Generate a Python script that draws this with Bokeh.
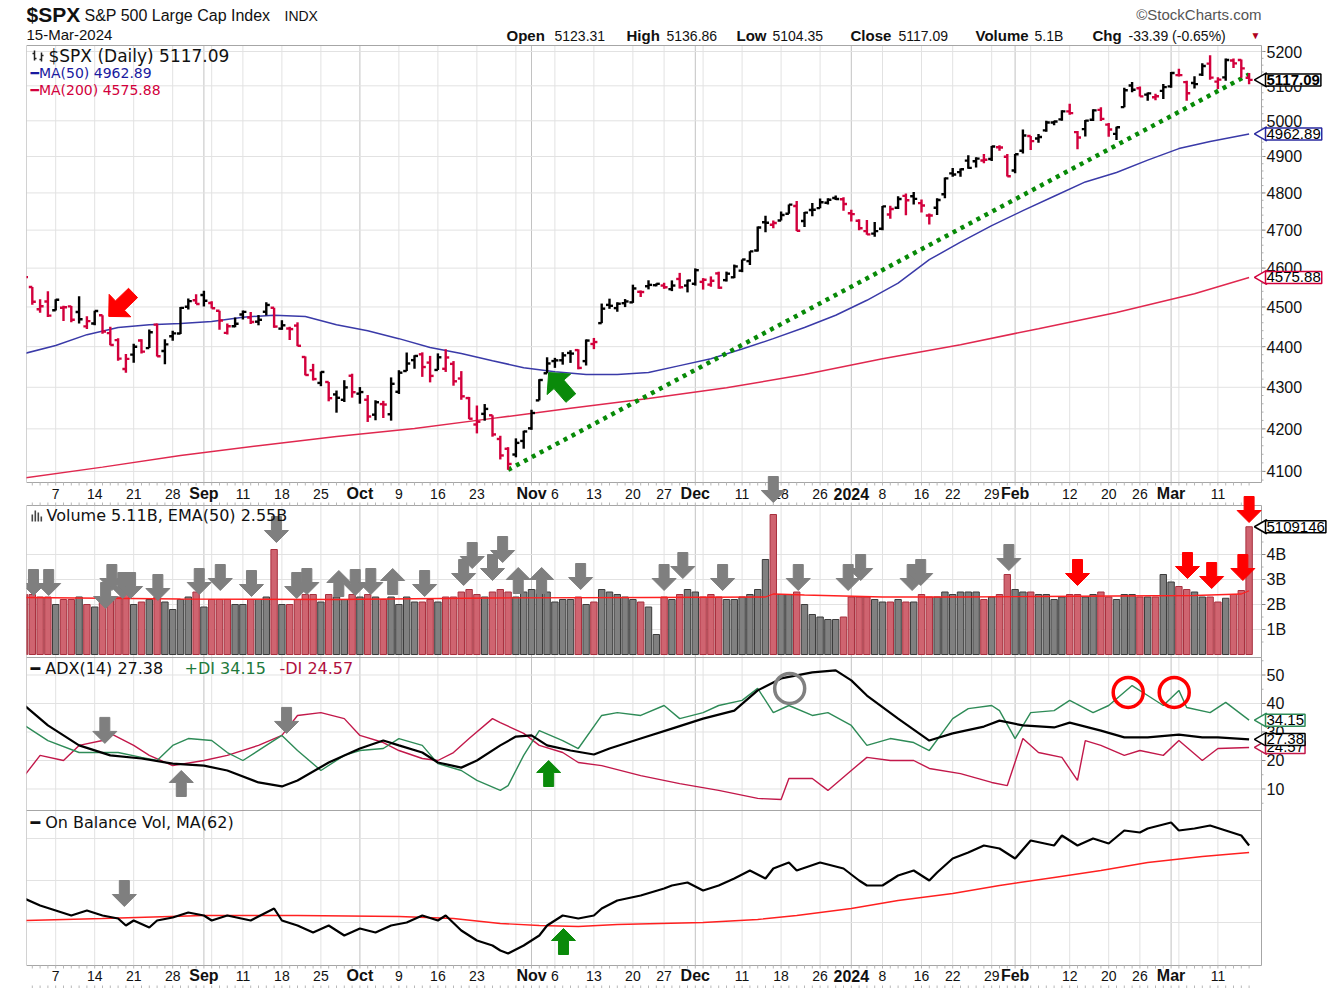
import numpy as np
from bokeh.plotting import figure
from bokeh.models import Range1d, LogScale, Label, ColumnDataSource
from bokeh.core.properties import value
from bokeh.embed import file_html
from bokeh.resources import INLINE

# ---------------- DATA ----------------
prev_close = 4588.96  # close before first bar
opens = [4578.83,4550.93,4494.27,4513.96,4491.58,4498.03,4501.57,4487.16,4450.69,4458.13,4478.87,4433.79,4416.32,4344.88,4380.28,4415.33,4396.44,4455.16,4389.38,4426.03,4432.75,4500.34,4517.01,
 4530.60,4510.06,4490.35,4434.55,4451.30,4480.98,4473.27,4462.65,4487.78,4497.98,4445.13,4445.41,4452.81,4374.36,4341.74,4310.62,4312.88,4282.63,4269.65,4328.18,
 4284.52,4269.75,4233.83,4259.31,4234.79,4289.02,4339.75,4366.59,4380.94,4360.49,4342.37,4345.23,4357.35,4321.36,4273.85,4210.40,4235.79,4232.42,4175.99,4152.93,4139.39,4171.33,
 4201.27,4268.26,4334.23,4364.27,4366.21,4384.37,4391.41,4364.15,4406.66,4458.97,4505.30,4497.08,4509.55,4511.70,4538.77,4553.04,4555.84,4554.86,4545.55,4571.84,4554.87,
 4559.43,4564.37,4557.25,4586.23,4568.84,4576.20,4593.39,4618.30,4646.20,4721.04,4714.23,4725.58,4743.72,4764.73,4724.29,4753.92,4758.86,4773.45,4786.44,4782.88,
 4745.20,4725.07,4697.42,4690.57,4703.70,4741.93,4759.94,4792.13,4791.18,4772.35,4739.13,4760.10,4796.28,4853.42,4856.80,4888.56,4886.66,4888.91,4892.95,4925.89,4899.19,
 4861.11,4916.06,4957.19,4950.16,4973.05,4995.16,5004.17,5026.83,4967.94,4976.44,5003.14,5031.13,4989.32,4963.03,5038.83,5100.92,5093.00,5074.60,5067.20,5085.36,
 5098.51,5130.99,5110.52,5108.03,5132.38,5164.46,5111.96,5124.31,5173.49,5175.14,5123.31]
highs = [4584.62,4550.93,4519.49,4540.34,4519.84,4503.31,4502.44,4527.37,4476.23,4490.33,4478.87,4449.95,4421.17,4381.82,4407.55,4418.59,4443.18,4458.30,4418.46,4439.56,4500.14,4521.65,4532.26,
 4541.25,4514.29,4490.35,4457.81,4473.53,4490.77,4487.11,4479.39,4511.99,4497.98,4466.36,4449.85,4461.03,4375.70,4357.40,4338.51,4313.01,4292.07,4317.27,4333.15,
 4300.58,4281.15,4268.50,4267.13,4324.10,4341.73,4385.46,4378.64,4385.85,4377.10,4383.33,4393.57,4364.20,4339.54,4276.56,4255.84,4259.38,4232.42,4183.60,4156.70,4177.47,4195.55,
 4245.64,4319.72,4373.62,4372.21,4386.26,4391.20,4393.40,4418.03,4421.76,4508.67,4521.17,4511.99,4520.12,4557.11,4542.14,4568.43,4560.31,4562.06,4568.14,4587.64,4569.89,
 4599.39,4574.06,4578.56,4590.74,4590.92,4609.23,4622.49,4643.93,4709.69,4738.57,4725.53,4749.52,4768.69,4778.01,4748.71,4772.94,4784.72,4785.39,4793.30,4788.43,
 4754.33,4729.29,4726.78,4721.49,4764.54,4765.47,4790.80,4798.50,4802.40,4782.34,4744.23,4785.79,4842.07,4868.41,4866.48,4903.68,4898.15,4906.69,4929.31,4931.09,4906.75,
 4906.97,4975.29,4957.19,4963.13,4999.89,5000.40,5030.06,5048.39,4971.30,5002.52,5032.72,5038.70,4993.71,4983.21,5094.39,5111.06,5097.66,5080.69,5077.37,5104.99,
 5140.33,5149.67,5114.54,5127.97,5165.62,5189.26,5124.66,5179.14,5179.14,5176.85,5136.86]
lows = [4567.53,4505.75,4485.54,4474.55,4491.15,4464.39,4461.33,4457.92,4443.98,4453.44,4432.19,4403.55,4364.83,4335.31,4360.30,4382.77,4396.44,4375.55,4356.29,4414.98,4431.68,4493.59,4507.39,
 4501.35,4496.01,4442.38,4430.46,4448.38,4467.89,4456.83,4453.52,4478.69,4447.21,4442.11,4416.61,4401.38,4329.17,4316.49,4302.70,4265.98,4238.63,4264.38,4274.86,
 4260.21,4216.45,4220.48,4225.91,4219.55,4283.79,4339.64,4345.34,4325.43,4311.97,4342.37,4337.54,4303.84,4269.69,4223.03,4189.22,4219.43,4181.42,4127.90,4103.78,4132.94,4153.12,
 4197.74,4268.26,4334.23,4347.53,4355.41,4359.76,4343.94,4353.34,4393.82,4458.97,4495.31,4487.83,4499.66,4510.36,4525.51,4545.05,4552.80,4546.50,4540.51,4547.15,4537.24,
 4554.71,4544.48,4551.68,4546.50,4565.22,4574.06,4589.43,4608.09,4643.23,4694.34,4704.69,4725.58,4743.72,4697.82,4708.35,4736.77,4758.45,4768.90,4780.98,4751.99,
 4722.67,4699.71,4687.53,4682.11,4699.82,4730.35,4756.20,4739.58,4768.98,4747.12,4714.82,4740.57,4785.87,4844.05,4844.37,4865.94,4869.34,4881.47,4887.40,4916.27,4845.15,
 4853.52,4907.99,4918.09,4938.60,4969.05,4987.09,5000.34,5016.83,4920.31,4955.87,4999.44,4999.52,4955.02,4946.00,5038.83,5081.46,5068.91,5057.29,5058.35,5061.89,
 5094.16,5127.18,5056.82,5092.22,5128.21,5117.50,5091.14,5114.48,5151.88,5123.30,5104.35]
closes = [4576.73,4513.39,4501.89,4478.03,4518.44,4499.38,4467.71,4468.83,4464.05,4489.72,4437.86,4404.33,4370.36,4369.71,4399.77,4387.55,4436.01,4376.31,4405.71,4433.31,4497.63,4514.87,4507.66,
 4515.77,4496.83,4465.48,4451.14,4457.49,4487.46,4461.90,4467.44,4505.10,4450.32,4453.53,4443.95,4402.20,4330.00,4320.06,4337.44,4273.53,4274.51,4299.70,4288.05,
 4288.39,4229.45,4263.75,4258.19,4308.50,4335.66,4358.24,4376.95,4349.61,4327.78,4373.63,4373.20,4314.60,4278.00,4224.16,4217.04,4247.68,4186.77,4137.23,4117.37,4166.82,4193.80,
 4237.86,4317.78,4358.34,4365.98,4378.38,4382.78,4347.35,4415.24,4411.55,4495.70,4502.88,4508.24,4514.02,4547.38,4538.19,4556.62,4559.34,4550.43,4554.89,4550.58,4567.80,
 4594.63,4569.78,4567.18,4549.34,4585.59,4604.37,4622.44,4643.70,4707.09,4719.55,4719.19,4740.56,4768.37,4698.35,4746.75,4754.63,4774.75,4781.58,4783.35,4769.83,
 4742.83,4704.81,4688.68,4697.24,4763.54,4756.50,4783.45,4780.24,4783.83,4765.98,4739.21,4780.94,4839.81,4850.43,4864.60,4868.55,4894.16,4890.97,4927.93,4924.97,4845.65,
 4906.19,4958.61,4942.81,4954.23,4995.06,4997.91,5026.61,5021.84,4953.17,5000.62,5029.73,5005.57,4975.51,4981.80,5087.03,5088.80,5069.53,5078.18,5069.76,5096.27,
 5137.08,5130.95,5078.65,5104.76,5157.36,5123.69,5117.94,5175.27,5165.31,5150.48,5117.09]
volume_b = [2.4,2.4,2.3,2.3,2.0,2.2,2.2,2.3,2.0,1.9,2.1,2.2,2.3,2.4,2.0,2.1,2.2,2.3,2.1,1.8,2.2,2.3,2.5,
 1.9,2.2,2.2,2.2,2.0,2.0,2.2,2.2,2.3,4.2,2.0,2.0,2.2,2.4,2.4,2.1,2.4,2.3,2.2,2.4,
 2.3,2.4,2.3,2.2,2.3,2.0,2.3,2.1,2.1,2.2,2.1,2.3,2.3,2.5,2.6,2.4,2.3,2.5,2.6,2.5,2.3,2.5,
 2.6,2.6,2.5,2.1,2.2,2.2,2.3,2.0,2.1,2.6,2.5,2.4,2.3,2.2,2.1,1.9,0.8,2.3,2.2,2.4,2.6,
 2.5,2.3,2.4,2.3,2.2,2.2,2.3,2.4,2.6,3.8,5.6,2.4,2.4,2.5,2.0,1.6,1.5,1.4,1.4,1.5,
 2.3,2.3,2.3,2.2,2.1,2.1,2.2,2.1,2.1,2.4,2.3,2.3,2.5,2.4,2.5,2.5,2.5,2.2,2.3,2.4,3.2,
 2.6,2.5,2.5,2.4,2.4,2.2,2.3,2.4,2.4,2.3,2.4,2.5,2.3,2.2,2.4,2.4,2.3,2.3,2.3,3.2,
 2.9,2.72,2.6,2.5,2.3,2.3,2.1,2.25,2.4,2.56,5.11]

ma50_idx = [0,4,8,12,16,20,24,28,32,36,40,44,48,52,56,60,64,68,72,76,80,84,88,92,96,100,104,108,112,116,120,124,128,132,136,140,144,148,152,157]
ma50_val = [4383,4403,4430,4448,4455,4458,4463,4474,4479,4476,4455,4440,4420,4398,4383,4365,4348,4338,4331,4331,4336,4353,4370,4394,4420,4448,4479,4517,4561,4622,4668,4712,4752,4791,4830,4856,4890,4922,4942,4962.89]
ma200_idx = [0,10,20,30,40,50,60,70,80,90,100,110,120,130,140,150,157]
ma200_val = [4085,4110,4137,4160,4182,4201,4225,4249,4273,4299,4331,4370,4405,4445,4486,4534,4575.88]
trend_idx = [62,157]
trend_val = [4103.78,5133.0]

vema_idx = [0,20,40,60,80,95,96,100,110,120,130,140,150,156,157]
vema_val = [2.28,2.22,2.2,2.26,2.28,2.3,2.42,2.38,2.3,2.3,2.32,2.34,2.36,2.42,2.55]

adx_idx = [0,3,7,11,15,19,23,26,30,33,35,39,43,46,48,51,53,56,58,61,63,65,67,70,73,75,79,83,87,91,94,97,101,104,106,108,112,116,119,123,125,128,132,134,138,141,144,148,151,153,157]
adx_val = [39.3,32.3,25.3,21.8,20.7,18.9,18.2,16.5,12.3,10.9,13.0,19.3,24.2,27.0,25.3,22.8,19.3,17.5,20.0,25.3,28.4,28.8,25.3,23.5,22.1,24.2,27.7,31.2,34.7,37.5,44.6,48.8,50.9,51.6,48.1,42.8,34.7,27.0,29.5,31.9,34.0,32.3,31.6,33.3,30.5,28.1,28.1,29.1,28.1,28.1,27.38]
pdi_idx = [0,3,7,10,12,15,17,19,21,24,26,28,31,33,35,38,41,43,46,48,51,53,56,58,61,62,64,66,69,71,74,76,79,82,84,87,89,92,94,96,98,101,103,106,108,111,114,116,119,121,124,125,127,129,132,134,137,139,142,144,146,148,149,152,154,157]
pdi_val = [32.3,27.0,22.8,22.8,22.8,21.1,20.0,25.3,27.7,27.0,22.8,20.0,25.3,28.8,23.5,16.5,21.8,23.5,24.2,27.7,25.3,18.9,16.5,13.0,9.5,11.2,21.8,30.5,27.0,24.2,35.8,36.8,35.8,39.3,34.7,36.8,39.3,41.1,45.3,36.8,39.3,35.8,36.8,32.3,25.3,27.7,26.3,23.5,34.7,38.2,39.3,37.5,27.7,36.8,37.5,41.1,36.8,39.3,46.3,42.8,39.3,44.6,38.6,36.8,40.4,34.15]
mdi_idx = [0,2,5,7,10,11,14,16,19,23,26,30,33,35,38,41,43,46,48,51,53,55,57,60,61,64,66,69,71,74,79,84,89,94,97,98,101,103,106,108,111,114,116,120,124,126,128,130,133,135,136,138,141,143,146,148,151,153,157]
mdi_val = [14.7,21.8,20.0,25.3,27.0,29.5,25.3,21.8,18.2,20.0,21.8,25.3,28.8,35.8,36.8,34.7,28.8,26.3,23.5,20.7,20.0,22.8,27.7,34.7,33.3,29.5,25.3,22.8,19.3,18.2,14.7,11.9,9.5,6.7,6.3,13.7,13.7,9.5,16.5,21.1,20.0,20.0,17.2,15.4,12.3,11.2,27.7,22.8,21.1,13.0,27.0,25.3,21.8,23.5,21.8,27.0,20.0,24.2,24.57]

obv_idx = [0,2,4,6,8,10,12,13,14,16,17,19,21,23,24,26,29,32,33,35,37,39,41,43,45,47,49,51,53,54,56,58,60,61,62,64,66,67,69,71,73,74,76,79,82,83,85,87,89,91,93,95,96,98,99,102,105,107,108,110,112,114,116,117,119,121,123,125,127,129,132,133,135,137,139,141,143,144,147,148,150,152,154,156,157]
obv_val = [33.5,30,27.5,25,27.5,25,23.5,20,22.5,19,22.5,24,26.5,25,22.5,25,22.5,28.5,22.5,20,16.5,20,15,18.5,16.5,20,21.5,25,22.5,25,17.5,12.5,10,7.5,6,10,15,20,25,23.5,25,28.5,32.5,35,38.5,40,41.5,37.5,40,43.5,47.5,43.5,48.5,51.5,47.5,51.5,48.5,42.5,40,40,45,47.5,42.5,46.5,53.5,56.5,60,58.5,53.5,62.5,60,65,60,63.5,61,67.5,66.5,68.5,71.5,67.5,68.5,70,67.5,65,60]
obvma_idx = [0,10,23,35,48,55,61,66,71,76,87,94,99,106,112,119,125,132,138,144,151,157]
obvma_val = [22.5,23.5,25,25,24.5,23.5,21,20,19.5,20.5,21.5,23,25,28.5,32.5,36,40,44,47.5,51.5,54.5,56.5]

week_idx = [4,9,14,19,24,28,33,38,48,53,58,63,68,73,78,82,87,92,97,102,110,115,119,124,129,134,139,143,148,153]
tick_idx = [4,9,14,19,28,33,38,48,53,58,68,73,78,82,92,97,102,110,115,119,124,134,139,143,153]
tick_txt = ["7","14","21","28","11","18","25","9","16","23","6","13","20","27","11","18","26","8","16","22","29","12","20","26","11"]
month_idx = [23,43,65,86,106,127,147]
month_txt = ["Sep","Oct","Nov","Dec","2024","Feb","Mar"]
price_ticks = [4100,4200,4300,4400,4500,4600,4700,4800,4900,5000,5100,5200]
vol_ticks = [1,2,3,4]
vol_tick_txt = ["1B","2B","3B","4B"]
adx_ticks = [10,20,30,40,50]

# ---------------- LAYOUT / STYLE ----------------
SANS = "Liberation Sans"
VERD = "DejaVu Sans"
INK = "#111111"
W, H = 1328, 988
LEFT = 26
PXI = 7.8          # pixels per trading day
X0 = 24.0          # page x of the first bar


def ix(X):
    return (X - X0) / PXI


XL, XRt = ix(26), ix(1261)
GRID = "#e2e2e2"
MONTHGRID = "#c2c2c2"
OUTLINE = "#a6a6a6"
UPC = "#000000"
DNC = "#d2003c"

# panel: (top px, bottom px, value at top, value at bottom, log)
PANELS = {
    "price": (45, 482, 5217.7, 4074.4, True),
    "vol": (505, 657, 5.96, -0.12, False),
    "adx": (657, 810, 56.14, 2.456, False),
    "obv": (810, 965, 77.5, 0.0, False),
}


def extra_range(top, bot, vtop, vbot, lg):
    if lg:
        a, b = np.log(vtop), np.log(vbot)
        f = lambda Y: np.exp(a + (b - a) * (Y - top) / (bot - top))
    else:
        f = lambda Y: vtop + (vbot - vtop) * (Y - top) / (bot - top)
    return Range1d(start=float(f(H)), end=float(f(0)))


p = figure(width=W, height=H, x_range=Range1d(ix(LEFT), ix(W)), y_range=Range1d(H, 0),
           x_axis_location=None, y_axis_location=None, title=None,
           output_backend="svg", toolbar_location=None,
           min_border_left=LEFT, min_border_right=0, min_border_top=0, min_border_bottom=0)
p.grid.visible = False
p.outline_line_color = None
p.background_fill_color = "white"
p.border_fill_color = "white"
p.extra_y_ranges = {k: extra_range(*v) for k, v in PANELS.items()}
p.extra_y_scales = {"price": LogScale()}

n = len(closes)
idx = np.arange(n)
c = np.array(closes)
prevs = np.r_[prev_close, c[:-1]]
up = c >= prevs

# ---- vertical grid lines in each panel ----
gx, gy0, gy1, gc = [], [], [], []
for k, (top, bot, _, _, _) in PANELS.items():
    for w in week_idx:
        gx.append(w); gy0.append(top); gy1.append(bot); gc.append(GRID)
    for m in month_idx:
        gx.append(m); gy0.append(top); gy1.append(bot); gc.append(MONTHGRID)
p.segment(x0=gx, y0=gy0, x1=gx, y1=gy1, line_color=gc, line_width=1)

# ---- horizontal grid lines, right-side ticks and labels ----
def yaxis(name, ticks, labels, minor):
    p.segment(x0=XL, x1=XRt, y0=ticks, y1=ticks, line_color=GRID, line_width=1, y_range_name=name)
    p.segment(x0=XRt, x1=XRt + 4 / PXI, y0=ticks, y1=ticks, line_color="#888888", y_range_name=name)
    p.segment(x0=XRt, x1=XRt + 2 / PXI, y0=minor, y1=minor, line_color="#b0b0b0", y_range_name=name)
    p.text(x=ix(1266), y=ticks, text=labels, y_range_name=name, text_font=value(SANS),
           text_font_size="16px", text_color=INK, text_align="left", text_baseline="middle")


yaxis("price", price_ticks, [str(t) for t in price_ticks], list(range(4080, 5220, 20)))
yaxis("vol", vol_ticks, vol_tick_txt, [0.5, 1.5, 2.5, 3.5, 4.5])
yaxis("adx", adx_ticks, [str(t) for t in adx_ticks], [5, 15, 25, 35, 45, 55])
p.segment(x0=XL, x1=XRt, y0=[21.5, 42.5, 63.5], y1=[21.5, 42.5, 63.5], line_color=GRID,
          y_range_name="obv")

# ---- panel outlines ----
tops = [v[0] for v in PANELS.values()]
bots = [v[1] for v in PANELS.values()]
p.quad(left=XL, right=XRt, top=tops, bottom=bots, fill_alpha=0, line_color=OUTLINE, line_width=1)

# ---- date strips ----
def date_strip(ytop, ybot, ylab):
    p.segment(x0=idx, x1=idx, y0=ytop, y1=ytop + 3, line_color="#b8b8b8")
    p.segment(x0=idx, x1=idx, y0=ybot - 3, y1=ybot, line_color="#b8b8b8")
    p.text(x=tick_idx, y=ylab, text=tick_txt, text_font=value(SANS), text_font_size="14px",
           text_color=INK, text_align="center", text_baseline="middle")
    p.text(x=month_idx, y=ylab, text=month_txt, text_font=value(SANS), text_font_size="16px",
           text_font_style="bold", text_color=INK, text_align="center", text_baseline="middle")


date_strip(482, 505, 493)
date_strip(965, 988, 975)

# ---- small legend icons ----
p.segment(x0=[ix(34), ix(32), ix(34), ix(41), ix(39), ix(41)],
          y0=[50, 53, 58, 52, 59, 55], x1=[ix(34), ix(34), ix(36), ix(41), ix(41), ix(43)],
          y1=[60, 53, 58, 61, 59, 55], line_color="#222222", line_width=1.5)
p.quad(left=[ix(31), ix(34), ix(37), ix(40)], right=[ix(32.6), ix(35.6), ix(38.6), ix(41.6)],
       top=[514, 510, 512, 516], bottom=[521, 521, 521, 521], fill_color="#444444", line_color=None)

# ---- price panel ----
src = ColumnDataSource(dict(x=idx, xl=idx - 0.45, xr=idx + 0.45, o=opens, h=highs, l=lows,
                            c=closes, col=np.where(up, UPC, DNC)))
p.line(ma200_idx, ma200_val, line_color="#e0284f", line_width=1.5, y_range_name="price")
p.line(ma50_idx, ma50_val, line_color="#3a3aa8", line_width=1.5, y_range_name="price")
p.line(trend_idx, trend_val, line_color="#078a07", line_width=4.5, line_dash="4 5",
       y_range_name="price")
for x0, y0, x1, y1 in [("x", "l", "x", "h"), ("xl", "o", "x", "o"), ("x", "c", "xr", "c")]:
    p.segment(x0=x0, y0=y0, x1=x1, y1=y1, line_color="col", line_width=2.4, source=src,
              y_range_name="price")

# ---- volume panel ----
vsrc = ColumnDataSource(dict(x=idx, v=volume_b,
                             fc=np.where(up, "#808080", "#cf6470"),
                             lc=np.where(up, "#3c3c3c", "#a8303e")))
p.vbar(x="x", top="v", bottom=0, width=0.82, fill_color="fc", line_color="lc",
       line_width=1, source=vsrc, y_range_name="vol")
p.line(vema_idx, vema_val, line_color="#ff2020", line_width=1.3, y_range_name="vol")

# ---- ADX panel ----
p.line(mdi_idx, mdi_val, line_color="#c2184a", line_width=1.4, y_range_name="adx")
p.line(pdi_idx, pdi_val, line_color="#2e8b57", line_width=1.4, y_range_name="adx")
p.line(adx_idx, adx_val, line_color="#000000", line_width=2.2, y_range_name="adx")
p.scatter([98.1], [45.3], marker="circle", size=30, fill_alpha=0, line_color="#808080",
          line_width=3.5, y_range_name="adx")
p.scatter([141.5, 147.4], [43.9, 43.9], marker="circle", size=30, fill_alpha=0,
          line_color="#ff0000", line_width=3.5, y_range_name="adx")

# ---- OBV panel ----
p.line(obvma_idx, obvma_val, line_color="#ff2020", line_width=1.4, y_range_name="obv")
p.line(obv_idx, obv_val, line_color="#000000", line_width=2.2, y_range_name="obv")

# ---- block arrows ----
G = "#7f7f7f"
R = "#ff0000"
GR = "#0a8a0a"
arrow_specs = {
    "price": [(10.8, 4476, 224, R, 1.3), (67.2, 4336, 131, GR, 1.3)],
    "vol": [(x, y, a, col, 1.0) for x, y, a, col in [
        (1.15, 2.36, -90, G), (3.1, 2.36, -90, G), (10.4, 1.84, -90, G), (11.2, 2.56, -90, G),
        (12.6, 2.24, -90, G), (13.6, 2.24, -90, G), (17.1, 2.16, -90, G), (22.4, 2.4, -90, G),
        (25.1, 2.56, -90, G), (29.1, 2.32, -90, G), (32.3, 4.48, -90, G), (34.9, 2.24, -90, G),
        (36.2, 2.4, -90, G), (40.3, 3.36, 90, G), (42.4, 2.36, -90, G), (44.4, 2.4, -90, G),
        (47.2, 3.44, 90, G), (51.3, 2.32, -90, G), (56.3, 2.76, -90, G), (57.4, 3.44, -90, G),
        (60.0, 2.96, -90, G), (61.3, 3.68, -90, G), (63.3, 3.48, 90, G), (66.3, 3.48, 90, G),
        (71.3, 2.6, -90, G), (82.0, 2.56, -90, G), (84.4, 3.04, -90, G), (89.5, 2.56, -90, G),
        (96.0, 6.08, -90, G), (99.2, 2.56, -90, G), (105.6, 2.56, -90, G), (107.2, 2.96, -90, G),
        (113.8, 2.56, -90, G), (114.9, 2.76, -90, G), (126.2, 3.36, -90, G),
        (135.0, 2.76, -90, R), (149.1, 3.04, -90, R), (152.2, 2.64, -90, R),
        (156.2, 2.96, -90, R), (157.0, 5.28, -90, R)]],
    "adx": [(10.3, 26.0, -90, G, 1.0), (20.1, 16.5, 90, G, 1.0), (33.6, 29.5, -90, G, 1.0),
            (67.2, 20.0, 90, GR, 1.0)],
    "obv": [(12.8, 29.5, -90, G, 1.0), (69.1, 18.5, 90, GR, 1.0)],
}
for name, specs in arrow_specs.items():
    top, bot, vtop, vbot, lg = PANELS[name]
    ppu = (bot - top) / (np.log(vtop / vbot) if lg else (vtop - vbot))
    xs_all, ys_all, cols = [], [], []
    for tx, ty, ang, col, sc in specs:
        L, hl, hw, sw = 26 * sc, 12 * sc, 12 * sc, 5 * sc
        base = [(0, 0), (-hl, hw), (-hl, sw), (-L, sw), (-L, -sw), (-hl, -sw), (-hl, -hw)]
        a = np.radians(ang)
        xs, ys = [], []
        for u, v in base:
            dx = u * np.cos(a) - v * np.sin(a)
            dy = u * np.sin(a) + v * np.cos(a)
            xs.append(tx + dx / PXI)
            ys.append(ty * np.exp(dy / ppu) if lg else ty + dy / ppu)
        xs_all.append(xs); ys_all.append(ys); cols.append(col)
    p.patches(xs_all, ys_all, fill_color=cols, line_color=cols, line_width=1, y_range_name=name)


# ---- value tags on the right ----
def tag(name, val, text, col, bold=False):
    p.scatter([ix(1262)], [val], marker="triangle", angle=np.pi / 2, size=14,
              fill_color="white", line_color=col, line_width=1.5, y_range_name=name)
    p.add_layout(Label(x=1265 - LEFT, y=val, x_units="screen", y_units="data", y_range_name=name,
                       text=text, text_font=SANS, text_font_size="15px",
                       text_font_style="bold" if bold else "normal", text_color="black",
                       text_baseline="middle", background_fill_color="white",
                       border_line_color=col, border_line_width=1.5, padding=1))


tag("price", ma200_val[-1], "4575.88", "#d2003c")
tag("price", ma50_val[-1], "4962.89", "#2a2aa0")
tag("price", closes[-1], "5117.09", "#000000", bold=True)
tag("vol", volume_b[-1], "5109146", "#000000")
tag("adx", pdi_val[-1], "34.15", "#2e8b57")
tag("adx", mdi_val[-1], "24.57", "#c2184a")
tag("adx", adx_val[-1], "27.38", "#000000")


# ---- texts ----
def T(X, Y, text, size, font=SANS, style="normal", color=INK, align="left"):
    p.add_layout(Label(x=X - LEFT, y=H - Y, x_units="screen", y_units="screen", text=text,
                       text_font=font, text_font_size=size, text_font_style=style,
                       text_color=color, text_align=align, text_baseline="middle"))


T(26, 14, "$SPX", "21px", style="bold")
T(84, 15, "S&P 500 Large Cap Index", "16px")
T(284, 15, "INDX", "14px")
T(26, 34, "15-Mar-2024", "15px")
T(1261, 14, "©StockCharts.com", "15px", color="#555555", align="right")
for X, t, b in [(506, "Open", True), (554, "5123.31", False), (626, "High", True),
                (666, "5136.86", False), (736, "Low", True), (772, "5104.35", False),
                (850, "Close", True), (898, "5117.09", False), (975, "Volume", True),
                (1034, "5.1B", False), (1092, "Chg", True), (1128, "-33.39 (-0.65%)", False)]:
    T(X, 35, t, "15px" if b else "14px", style="bold" if b else "normal")
T(1250, 35, "▼", "10px", color="#b00020")

T(48, 55, "$SPX (Daily) 5117.09", "17px", font=VERD)
T(30, 72, "━MA(50) 4962.89", "14px", font=VERD, color="#1a1aa0")
T(30, 89, "━MA(200) 4575.88", "14px", font=VERD, color="#d2003c")
T(46, 515, "Volume 5.11B, EMA(50) 2.55B", "16px", font=VERD)
T(30, 668, "━ ADX(14) 27.38", "16px", font=VERD)
T(184, 668, "+DI 34.15", "16px", font=VERD, color="#1e7a3c")
T(279, 668, "-DI 24.57", "16px", font=VERD, color="#b0103e")
T(30, 822, "━ On Balance Vol, MA(62)", "16px", font=VERD)

open("out.html", "w").write(file_html(p, INLINE))
